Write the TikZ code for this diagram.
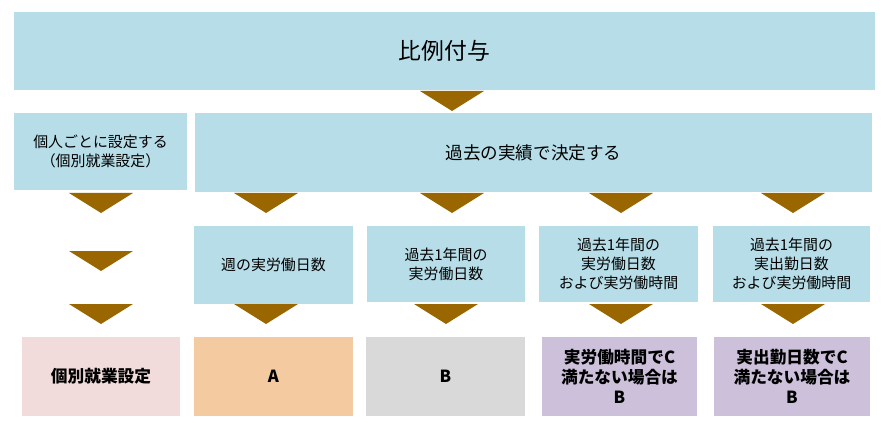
\documentclass[tikz,border=0pt]{standalone}
\usepackage{fontspec}
\setmainfont{Noto Sans CJK JP}
\usetikzlibrary{positioning}
\definecolor{boxblue}{RGB}{183,222,232}
\definecolor{tribrown}{RGB}{153,102,0}
\definecolor{pinkbox}{RGB}{242,220,219}
\definecolor{orangebox}{RGB}{244,202,160}
\definecolor{graybox}{RGB}{217,217,217}
\definecolor{purplebox}{RGB}{204,192,218}
\newcommand{\downtri}[2]{\fill[tribrown] (#1-32,#2) -- (#1+32,#2) -- (#1,#2+20) -- cycle;}

\begin{document}
\begin{tikzpicture}[x=0.02cm,y=-0.02cm,
										bluebox/.style={fill=boxblue,align=center,inner sep=0pt,font=\fontsize{8.5}{11}\selectfont},
										resultbox/.style={align=center,inner sep=0pt,font=\bfseries\fontsize{9.5}{11.5}\selectfont}
										]
	\useasboundingbox (0,0) rectangle (885,432);
	\node[bluebox,minimum width=861*0.02cm,minimum height=78*0.02cm,font=\fontsize{13}{15}\selectfont] (top) at (444.5,51) {比例付与};
	\node[bluebox,minimum width=173*0.02cm,minimum height=77*0.02cm] (indiv) at (100.5,151.5) {個人ごとに設定する\\（個別就業設定）};
	\node[bluebox,minimum width=677*0.02cm,minimum height=79*0.02cm,font=\fontsize{10}{12}\selectfont] (past) at (533.5,152.5) {過去の実績で決定する};
	\node[bluebox,minimum width=159*0.02cm,minimum height=78*0.02cm] (week) at (273.5,265) {週の実労働日数};
	\node[bluebox,minimum width=158*0.02cm,minimum height=76*0.02cm] (days) at (446,264) {過去1年間の\\実労働日数};
	\node[bluebox,minimum width=159*0.02cm,minimum height=76*0.02cm] (hours) at (618.5,264) {過去1年間の\\実労働日数\\および実労働時間};
	\node[bluebox,minimum width=157*0.02cm,minimum height=76*0.02cm] (attend) at (791.5,264) {過去1年間の\\実出勤日数\\および実労働時間};
	% results
	\node[resultbox,fill=pinkbox,minimum width=158*0.02cm,minimum height=79*0.02cm] (resI) at (101,376.5) {個別就業設定};
	\node[resultbox,fill=orangebox,minimum width=159*0.02cm,minimum height=79*0.02cm] (resA) at (273.5,376.5) {A};
	\node[resultbox,fill=graybox,minimum width=159*0.02cm,minimum height=79*0.02cm] (resB) at (445.5,376.5) {B};
	\node[resultbox,fill=purplebox,minimum width=155*0.02cm,minimum height=79*0.02cm] (resC) at (619.5,376.5) {実労働時間でC\\満たない場合は\\B};
	\node[resultbox,fill=purplebox,minimum width=156*0.02cm,minimum height=79*0.02cm] (resD) at (792,376.5) {実出勤日数でC\\満たない場合は\\B};
	% arrows
	\downtri{452}{91}
	\foreach \cx in {101,266,452,621,793} {\downtri{\cx}{193}}
	\downtri{101}{251}
	\foreach \cx in {101,266,446,621,793} {\downtri{\cx}{304}}
\end{tikzpicture}
\end{document}
